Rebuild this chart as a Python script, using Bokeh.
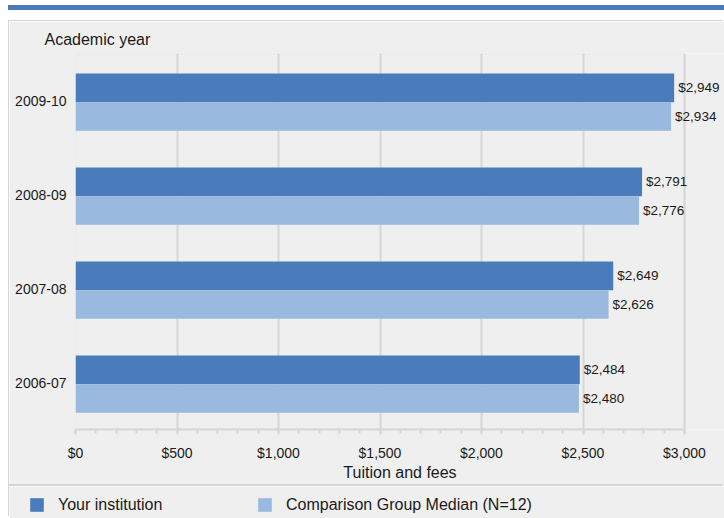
from bokeh.plotting import figure
from bokeh.models import (FactorRange, FixedTicker, NumeralTickFormatter, BoxAnnotation,
                          Legend, LegendItem, ColumnDataSource, Div, Range1d)
from bokeh.core.properties import value
from bokeh.transform import dodge
from bokeh.embed import file_html
from bokeh.resources import INLINE

years = ["2006-07", "2007-08", "2008-09", "2009-10"]
your_institution = [2484, 2649, 2791, 2949]
comparison_median = [2480, 2626, 2776, 2934]
x_ticks = [0, 500, 1000, 1500, 2000, 2500, 3000]
series_names = ["Your institution", "Comparison Group Median (N=12)"]

DARK = "#4a7bbb"
LIGHT = "#9ab9de"
STRIPE = "#4a78b8"
PANEL = "#efefef"
LINE = "#d6d6d6"
FONT = "Liberation Sans"
TXT = "#1a1a1a"

# page geometry (px)
PX, PY = 9, 21            # main figure origin on page
PW, PH = 715, 465         # main figure size
FL, FT, FB = 75, 53, 429  # frame left/top/bottom on page
X0_PX, X3000_PX = 75, 684
XEND = 3000 * (PX + PW - FL) / (X3000_PX - X0_PX)

src = ColumnDataSource(dict(
    year=years,
    yours=your_institution,
    comp=comparison_median,
    yours_lbl=["${:,}".format(v) for v in your_institution],
    comp_lbl=["${:,}".format(v) for v in comparison_median],
))

top = Div(text='<div style="position:absolute;left:8px;top:5px;height:4.5px;width:716px;'
               'background:%s"></div>' % STRIPE,
          width=724, height=PY, margin=0, styles={"position": "relative"})

p = figure(width=PW, height=PH, output_backend="svg", toolbar_location=None,
           y_range=FactorRange(factors=years, range_padding=0), x_range=Range1d(0, XEND),
           min_border_left=FL - PX, min_border_right=0, min_border_top=FT - PY,
           min_border_bottom=PY + PH - FB,
           border_fill_color=PANEL, background_fill_color=PANEL, margin=(0, 0, 0, PX))
p.styles = {"box-shadow": "-1px -1px 0 0 %s" % LINE}

# plot-area outline from $0 to $3,000
p.add_layout(BoxAnnotation(left=0, right=3000, bottom=0, top=len(years), fill_color=None,
                           line_color=LINE, line_width=2, level="underlay"))

DY1, DY2, BH = 0.135, -0.17, 0.305
r1 = p.hbar(y=dodge("year", DY1, range=p.y_range), right="yours", left=0, height=BH,
            source=src, fill_color=DARK, line_color=None)
r2 = p.hbar(y=dodge("year", DY2, range=p.y_range), right="comp", left=0, height=BH,
            source=src, fill_color=LIGHT, line_color=None)

p.text(x="yours", y=dodge("year", DY1, range=p.y_range), text="yours_lbl", source=src,
       x_offset=4, text_baseline="middle", text_align="left", text_font=value(FONT),
       text_font_size="13.5px", text_color=TXT)
p.text(x="comp", y=dodge("year", DY2, range=p.y_range), text="comp_lbl", source=src,
       x_offset=4, text_baseline="middle", text_align="left", text_font=value(FONT),
       text_font_size="13.5px", text_color=TXT)

# axes
xa = p.xaxis[0]
xa.bounds = (0, 3000)
xa.ticker = FixedTicker(ticks=x_ticks, minor_ticks=list(range(0, 3001, 100)))
xa.formatter = NumeralTickFormatter(format="$0,0")
xa.axis_line_color = LINE
xa.axis_line_width = 2
xa.major_tick_line_color = LINE
xa.major_tick_line_width = 2
xa.major_tick_out = 5
xa.major_tick_in = 0
xa.minor_tick_line_color = LINE
xa.minor_tick_line_width = 2
xa.minor_tick_out = 4
xa.minor_tick_in = 0
xa.major_label_text_font = FONT
xa.major_label_text_font_size = "14px"
xa.major_label_text_color = TXT
xa.major_label_standoff = 10
xa.axis_label = "Tuition and fees"
xa.axis_label_text_font = FONT
xa.axis_label_text_font_size = "16px"
xa.axis_label_text_font_style = "normal"
xa.axis_label_text_color = TXT
xa.axis_label_standoff = 0

ya = p.yaxis[0]
ya.axis_line_color = None
ya.major_tick_line_color = None
ya.minor_tick_line_color = None
ya.major_tick_out = 0
ya.major_label_standoff = 9
ya.major_label_text_font = FONT
ya.major_label_text_font_size = "14px"
ya.major_label_text_color = TXT

p.ygrid.grid_line_color = None
p.xgrid.ticker = FixedTicker(ticks=x_ticks)
p.xgrid.grid_line_color = LINE
p.xgrid.grid_line_width = 2
p.outline_line_color = None

p.title.text = "Academic year"
p.title.align = "left"
p.title.offset = 44 - FL
p.title.standoff = 11
p.title.text_font = FONT
p.title.text_font_size = "16px"
p.title.text_font_style = "normal"
p.title.text_color = TXT

# legend strip (separator line = its top shadow); separate root, so its frame
# is not aligned with the main plot's frame
LH = 518 - PY - PH
lf = figure(width=PW, height=LH, output_backend="svg", toolbar_location=None,
            x_axis_type=None, y_axis_type=None, x_range=p.x_range, y_range=p.y_range,
            min_border=0, min_border_left=0, min_border_right=0, min_border_top=0,
            min_border_bottom=0, border_fill_color=PANEL, background_fill_color=PANEL,
            outline_line_color=None, margin=(0, 0, 0, PX))
lf.styles = {"box-shadow": "-1px -2px 0 0 %s" % LINE}
lf.grid.visible = False
g1 = lf.hbar(y="year", right="yours", left=0, height=BH, source=src, fill_color=DARK,
             line_color=None, visible=False)
g2 = lf.hbar(y="year", right="comp", left=0, height=BH, source=src, fill_color=LIGHT,
             line_color=None, visible=False)
legend = Legend(items=[LegendItem(label=series_names[0], renderers=[g1]),
                       LegendItem(label=series_names[1], renderers=[g2])],
                orientation="horizontal", location=(28 - PX, 4.5), margin=0, padding=0,
                spacing=0, glyph_width=17, glyph_height=17, label_standoff=13,
                label_width=198, label_height=17, label_text_font=FONT,
                label_text_font_size="16px", label_text_color=TXT,
                border_line_alpha=0, background_fill_alpha=0,
                inactive_fill_alpha=0)
lf.add_layout(legend)

open("out.html", "w").write(file_html([top, p, lf], INLINE))
